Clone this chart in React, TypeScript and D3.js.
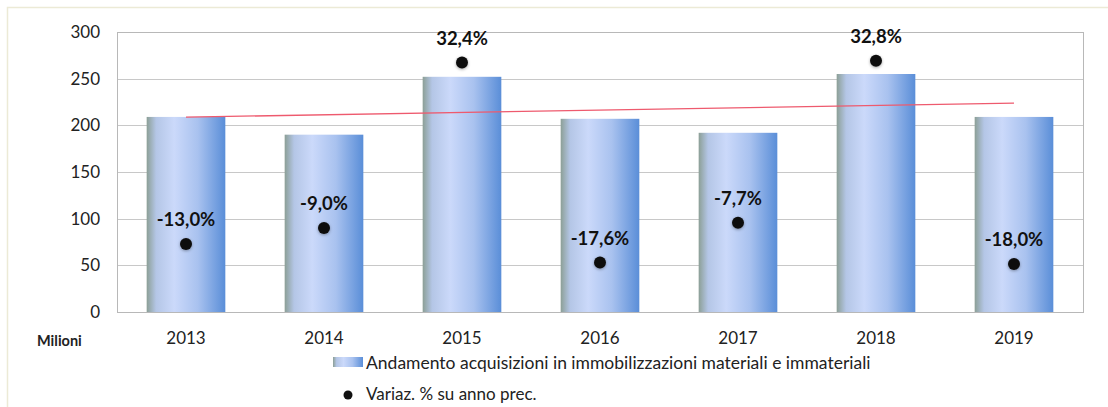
import { useEffect, useRef } from "react";
import * as d3 from "d3";

const years = ["2013", "2014", "2015", "2016", "2017", "2018", "2019"];
const acquisizioni = [209, 190, 252, 207, 192, 255, 209];
const variazioni = [-13.0, -9.0, 32.4, -17.6, -7.7, 32.8, -18.0];
const yTicks = [0, 50, 100, 150, 200, 250, 300];

const FONT = "Lato, 'Open Sans', sans-serif";

export default function App() {
  const ref = useRef<SVGSVGElement>(null);

  useEffect(() => {
    const width = 1108;
    const height = 407;
    const margin = { top: 32, right: 25, bottom: 95, left: 117 };

    const svg = d3.select(ref.current);
    svg.selectAll("*").remove();
    svg.attr("width", width).attr("height", height);

    // gradient for the bars
    const defs = svg.append("defs");
    const grad = defs.append("linearGradient").attr("id", "barGrad")
      .attr("x1", "0%").attr("x2", "100%").attr("y1", "0%").attr("y2", "0%");
    grad.append("stop").attr("offset", "0%").attr("stop-color", "#8c9f96");
    grad.append("stop").attr("offset", "12%").attr("stop-color", "#b4c6e6");
    grad.append("stop").attr("offset", "35%").attr("stop-color", "#cbd9fa");
    grad.append("stop").attr("offset", "65%").attr("stop-color", "#a9c2ef");
    grad.append("stop").attr("offset", "100%").attr("stop-color", "#5a8ed8");

    const shadow = defs.append("filter").attr("id", "dotShadow")
      .attr("x", "-100%").attr("y", "-100%").attr("width", "300%").attr("height", "300%");
    shadow.append("feDropShadow").attr("dx", 0).attr("dy", 1).attr("stdDeviation", 1.5)
      .attr("flood-color", "#000").attr("flood-opacity", 0.35);

    // outer chart border (right and bottom edges fall outside the picture)
    svg.append("rect")
      .attr("x", 7.5).attr("y", 7.5)
      .attr("width", width + 20).attr("height", height + 20)
      .attr("fill", "#fff").attr("stroke", "#ecead6").attr("stroke-width", 1.5);

    const x = d3.scaleBand()
      .domain(years)
      .range([margin.left, width - margin.right])
      .paddingInner(0.43)
      .paddingOuter(0.215);

    const y = d3.scaleLinear()
      .domain([0, 300])
      .range([height - margin.bottom, margin.top]);

    // hidden secondary axis for the percentage series
    const y2 = d3.scaleLinear()
      .domain([-30, 40])
      .range([height - margin.bottom, margin.top]);

    // gridlines
    svg.append("g")
      .selectAll("line")
      .data(yTicks)
      .join("line")
      .attr("x1", margin.left).attr("x2", width - margin.right)
      .attr("y1", d => Math.round(y(d)) + 0.5).attr("y2", d => Math.round(y(d)) + 0.5)
      .attr("stroke", "#c8c8c8").attr("stroke-width", 1);

    // plot area border
    svg.append("rect")
      .attr("x", margin.left + 0.5).attr("y", y(300) + 0.5)
      .attr("width", width - margin.right - margin.left).attr("height", y(0) - y(300))
      .attr("fill", "none").attr("stroke", "#b8b8b8");

    // Y axis labels
    svg.append("g")
      .selectAll("text")
      .data(yTicks)
      .join("text")
      .attr("x", 100).attr("y", d => y(d))
      .attr("dy", "0.35em")
      .attr("text-anchor", "end")
      .style("font-family", FONT).style("font-size", "17px").style("fill", "#222")
      .text(d => d);

    // bars
    svg.append("g")
      .selectAll("rect")
      .data(acquisizioni)
      .join("rect")
      .attr("x", (d, i) => x(years[i])!)
      .attr("y", d => y(d))
      .attr("width", x.bandwidth())
      .attr("height", d => y(0) - y(d))
      .attr("fill", "url(#barGrad)");

    // linear trend line
    const n = acquisizioni.length;
    const xs = d3.range(n);
    const mx = d3.mean(xs)!;
    const my = d3.mean(acquisizioni)!;
    const slope = d3.sum(xs, i => (i - mx) * (acquisizioni[i] - my)) / d3.sum(xs, i => (i - mx) ** 2);
    const trend = (i: number) => my + slope * (i - mx);
    const cx = (i: number) => x(years[i])! + x.bandwidth() / 2;
    svg.append("line")
      .attr("x1", cx(0)).attr("y1", y(trend(0)))
      .attr("x2", cx(n - 1)).attr("y2", y(trend(n - 1)))
      .attr("stroke", "#ee5a6e").attr("stroke-width", 1.3);

    // percentage dots
    svg.append("g")
      .selectAll("circle")
      .data(variazioni)
      .join("circle")
      .attr("cx", (d, i) => cx(i))
      .attr("cy", d => y2(d))
      .attr("r", 6)
      .attr("fill", "#111")
      .attr("filter", "url(#dotShadow)");

    // percentage labels
    const fmtPct = (v: number) => (v < 0 ? "-" : "") + Math.abs(v).toFixed(1).replace(".", ",") + "%";
    svg.append("g")
      .selectAll("text")
      .data(variazioni)
      .join("text")
      .attr("x", (d, i) => cx(i))
      .attr("y", d => y2(d) - 24)
      .attr("dy", "0.35em")
      .attr("text-anchor", "middle")
      .style("font-family", FONT).style("font-size", "18.5px").style("font-weight", "bold").style("fill", "#111")
      .text(d => fmtPct(d));

    // X axis labels
    svg.append("g")
      .selectAll("text")
      .data(years)
      .join("text")
      .attr("x", d => x(d)! + x.bandwidth() / 2)
      .attr("y", 338)
      .attr("dy", "0.35em")
      .attr("text-anchor", "middle")
      .style("font-family", FONT).style("font-size", "17px").style("fill", "#222")
      .text(d => d);

    svg.append("text")
      .attr("x", 37).attr("y", 341)
      .attr("dy", "0.35em")
      .style("font-family", FONT).style("font-size", "14.5px").style("font-weight", "bold").style("fill", "#222")
      .text("Milioni");

    // legend
    const legend = svg.append("g");
    legend.append("rect")
      .attr("x", 333).attr("y", 357).attr("width", 30).attr("height", 10)
      .attr("fill", "url(#barGrad)");
    legend.append("text")
      .attr("x", 366).attr("y", 363)
      .attr("dy", "0.35em")
      .style("font-family", FONT).style("font-size", "17.5px").style("fill", "#222")
      .text("Andamento acquisizioni in immobilizzazioni materiali e immateriali");
    legend.append("circle")
      .attr("cx", 348).attr("cy", 395).attr("r", 4.5).attr("fill", "#111");
    legend.append("text")
      .attr("x", 366).attr("y", 394)
      .attr("dy", "0.35em")
      .style("font-family", FONT).style("font-size", "17px").style("fill", "#222")
      .text("Variaz. % su anno prec.");
  }, []);

  return <svg ref={ref} style={{ position: "absolute", left: 0, top: 0 }}></svg>;
}
